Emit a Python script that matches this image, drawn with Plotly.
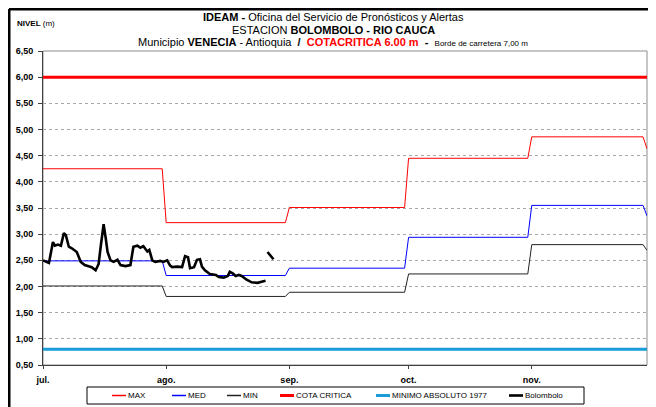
"""Nivel del Rio Cauca en Bolombolo frente a niveles de referencia mensuales."""

import plotly.graph_objects as go

_FONT = "Liberation Sans Narrow, Arial Narrow, Liberation Sans, Arial, sans-serif"
_TICK_FONT = "Liberation Sans, Arial, sans-serif"

# referencias mensuales (m); el ultimo valor es el de diciembre, dibujado el 30 nov.
month_start = ["2011-07-01", "2011-08-01", "2011-09-01", "2011-10-01", "2011-11-01"]
month_end = ["2011-07-31", "2011-08-31", "2011-09-30", "2011-10-31", "2011-11-29"]
dec_date = "2011-11-30"
max_nivel = [4.25, 3.22, 3.51, 4.45, 4.86, 4.63]
med_nivel = [2.49, 2.21, 2.35, 2.94, 3.55, 3.35]
min_nivel = [2.01, 1.81, 1.89, 2.24, 2.80, 2.69]

cota_critica = 6.00
minimo_absoluto = 0.80
range_dates = ["2011-07-01", "2011-11-30"]

# lecturas de la estacion Bolombolo (None = sin dato)
bolombolo_t = [
    "2011-07-01 00:00", "2011-07-02 12:00", "2011-07-03 12:00", "2011-07-04 00:00",
    "2011-07-04 18:00", "2011-07-05 12:00", "2011-07-06 06:00", "2011-07-06 18:00",
    "2011-07-07 12:00", "2011-07-08 06:00", "2011-07-09 12:00", "2011-07-10 12:00",
    "2011-07-11 12:00", "2011-07-13 06:00", "2011-07-14 06:00", "2011-07-15 00:00",
    "2011-07-15 12:00", "2011-07-16 06:00", "2011-07-16 18:00", "2011-07-17 06:00",
    "2011-07-18 00:00", "2011-07-18 18:00", "2011-07-19 18:00", "2011-07-20 12:00",
    "2011-07-21 18:00", "2011-07-23 00:00", "2011-07-23 18:00", "2011-07-24 18:00",
    "2011-07-25 12:00", "2011-07-26 06:00", "2011-07-27 06:00", "2011-07-27 18:00",
    "2011-07-28 12:00", "2011-07-29 06:00", "2011-07-30 12:00", "2011-07-31 06:00",
    "2011-08-01 06:00", "2011-08-02 00:00", "2011-08-02 12:00", "2011-08-03 18:00",
    "2011-08-05 00:00", "2011-08-05 18:00", "2011-08-06 12:00", "2011-08-07 00:00",
    "2011-08-08 00:00", "2011-08-08 18:00", "2011-08-09 12:00", "2011-08-10 00:00",
    "2011-08-10 18:00", "2011-08-12 00:00", "2011-08-13 12:00", "2011-08-14 06:00",
    "2011-08-15 12:00", "2011-08-16 12:00", "2011-08-17 00:00", "2011-08-17 18:00",
    "2011-08-18 12:00", "2011-08-19 06:00", "2011-08-20 00:00", "2011-08-21 06:00",
    "2011-08-22 12:00", "2011-08-24 00:00", "2011-08-25 00:00", "2011-08-26 00:00",
    "2011-08-26 06:00", "2011-08-26 12:00", "2011-08-28 00:00",
]
bolombolo_nivel = [
    2.50, 2.45, 2.85, 2.78,
    2.80, 2.78, 3.02, 2.98,
    2.76, 2.73, 2.66, 2.47,
    2.41, 2.37, 2.31, 2.43,
    2.75, 3.19, 2.94, 2.66,
    2.50, 2.47, 2.51, 2.41,
    2.39, 2.41, 2.76, 2.78,
    2.74, 2.77, 2.67, 2.70,
    2.50, 2.47, 2.49, 2.47,
    2.50, 2.40, 2.37, 2.38,
    2.37, 2.58, 2.56, 2.35,
    2.37, 2.51, 2.52, 2.38,
    2.31, 2.24, 2.22, 2.18,
    2.17, 2.20, 2.28, 2.25,
    2.20, 2.22, 2.20, 2.13,
    2.08, 2.07, 2.09, 2.11,
    None, 2.66, 2.52,
]

month_ticks = ["2011-07-01", "2011-08-01", "2011-09-01", "2011-10-01", "2011-11-01"]
month_labels = ["jul.", "ago.", "sep.", "oct.", "nov."]


def monthly_steps(values):
    """Flat segment per month, joined day to day as in the original sheet."""
    xs, ys = [], []
    for start, end, v in zip(month_start, month_end, values):
        xs += [start, end]
        ys += [v, v]
    xs.append(dec_date)
    ys.append(values[-1])
    return xs, ys


def px_x(px):
    """Screen pixel -> paper x (plot spans 43..647 on screen)."""
    return (px - 43) / 604


def px_y(px):
    """Screen pixel -> paper y (plot spans 51..365 on screen)."""
    return (365 - px) / 314


fig = go.Figure()

for name, vals, color in [("MAX", max_nivel, "#FF0000"),
                          ("MED", med_nivel, "#0000FF"),
                          ("MIN", min_nivel, "#222222")]:
    xs, ys = monthly_steps(vals)
    fig.add_trace(go.Scatter(x=xs, y=ys, name=name, mode="lines",
                             line=dict(color=color, width=1)))

fig.add_trace(go.Scatter(x=range_dates, y=[cota_critica] * 2, name="COTA CRITICA",
                         mode="lines", line=dict(color="#FF0000", width=3)))
fig.add_trace(go.Scatter(x=range_dates, y=[minimo_absoluto] * 2,
                         name="MINIMO ABSOLUTO 1977", mode="lines",
                         line=dict(color="#1A9CD8", width=3)))
fig.add_trace(go.Scatter(x=bolombolo_t, y=bolombolo_nivel, name="Bolombolo",
                         mode="lines", connectgaps=False,
                         line=dict(color="#000000", width=2.6)))

# titulo en tres lineas
title_lines = [
    ("<b>IDEAM -</b> Oficina del Servicio de Pronósticos y Alertas", 17),
    ("ESTACION <b>BOLOMBOLO - RIO CAUCA</b>", 29.5),
    ("Municipio <b>VENECIA</b> - Antioquia &nbsp;<b>/</b>&nbsp; "
     "<b><span style='color:#FF0000'>COTACRITICA 6.00 m</span></b> &nbsp;<b>-</b>&nbsp; "
     "<span style='font-size:8px'>Borde de carretera 7,00 m</span>", 42),
]
for text, y in title_lines:
    fig.add_annotation(text=text, x=px_x(333), y=px_y(y), xref="paper", yref="paper",
                       xanchor="center", yanchor="middle", showarrow=False,
                       font=dict(family=_FONT, size=11, color="#000000"))

fig.add_annotation(text="<b>NIVEL</b> (m)", x=px_x(15), y=px_y(23), xref="paper",
                   yref="paper", xanchor="left", yanchor="middle", showarrow=False,
                   font=dict(family=_FONT, size=8, color="#000000"))

# marco gris del area de trazado y borde negro exterior
fig.add_shape(type="rect", xref="x domain", yref="y domain", x0=0, x1=1, y0=0, y1=1,
              line=dict(color="#8C8C8C", width=1), layer="below")
fig.add_shape(type="line", xref="paper", yref="paper", x0=px_x(9), x1=1.05,
              y0=px_y(9), y1=px_y(9), line=dict(color="#000000", width=3))
fig.add_shape(type="line", xref="paper", yref="paper", x0=px_x(9), x1=px_x(9),
              y0=px_y(9), y1=-0.2, line=dict(color="#000000", width=3))

# leyenda en recuadro, como la del libro de Excel
legend_left = [112, 172, 227, 280, 376, 509]
fig.add_shape(type="rect", xref="paper", yref="paper", x0=px_x(87), x1=px_x(584),
              y0=px_y(404), y1=px_y(387), line=dict(color="#000000", width=1),
              fillcolor="#FFFFFF")
for left, tr in zip(legend_left, fig.data):
    fig.add_shape(type="line", xref="paper", yref="paper", x0=px_x(left),
                  x1=px_x(left + 14), y0=px_y(395.5), y1=px_y(395.5),
                  line=dict(color=tr.line.color, width=max(tr.line.width, 1.5)))
    fig.add_annotation(text=tr.name, x=px_x(left + 14), y=px_y(395.5), xref="paper",
                       yref="paper", xanchor="left", yanchor="middle",
                       showarrow=False, font=dict(family=_FONT, size=8))

# the page body adds an 8px offset, so the figure is sized 8px short of the window
fig.update_layout(
    width=648, height=399,
    margin=dict(l=35, r=9, t=43, b=42, autoexpand=False),
    paper_bgcolor="#FFFFFF", plot_bgcolor="#FFFFFF",
    separators=",.",
    font=dict(family=_FONT, size=8, color="#000000"),
    showlegend=False,
)
fig.update_xaxes(
    type="date", range=range_dates, tickvals=month_ticks,
    ticktext=[f"<b>{t}</b>" for t in month_labels], automargin=False,
    tickfont=dict(family=_TICK_FONT, size=9), ticks="outside", ticklen=3,
    tickcolor="#404040", showline=True, linecolor="#404040", linewidth=1,
    showgrid=False, zeroline=False, ticklabelstandoff=3,
)
fig.update_yaxes(
    range=[0.5, 6.5], dtick=0.5, tick0=0.5, tickformat=".2f", automargin=False,
    tickfont=dict(family=_TICK_FONT, size=9, weight="bold"), ticks="outside",
    ticklen=4, tickcolor="#404040", showline=True, linecolor="#404040", linewidth=1,
    showgrid=True, gridcolor="#A8A8A8", griddash="dot", gridwidth=1, zeroline=False,
    ticklabelstandoff=3,
)

fig.write_html("out.html")
